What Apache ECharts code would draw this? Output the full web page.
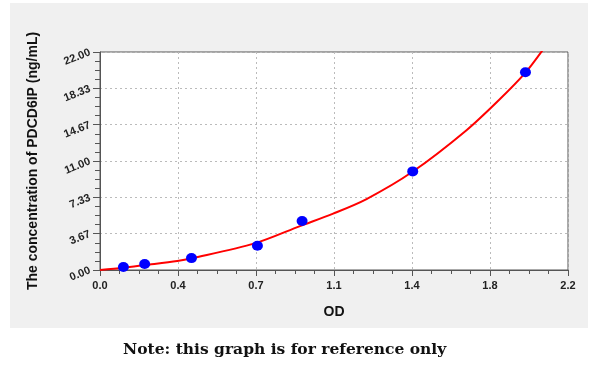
<!DOCTYPE html>
<html>
<head>
<meta charset="utf-8">
<script src="https://cdn.jsdelivr.net/npm/echarts@6/dist/echarts.min.js"></script>
<style>
html,body{margin:0;padding:0;background:#fff;}
#c{width:600px;height:372px;}
</style>
</head>
<body>
<div id="c"></div>
<script>
// Standard points (OD, concentration ng/mL)
const pointOD   = [0.11, 0.21, 0.43, 0.74, 0.95, 1.47, 2.00];
const pointConc = [0.30, 0.60, 1.20, 2.45, 4.95, 9.95, 19.95];
// Fitted curve
const curveOD   = [0.000, 0.109, 0.211, 0.363, 0.431, 0.728, 0.940, 1.096, 1.253, 1.469, 1.723, 1.879, 2.000, 2.080];
const curveConc = [0.00, 0.23, 0.50, 0.91, 1.18, 2.69, 4.43, 5.69, 7.16, 9.91, 14.11, 17.23, 19.92, 22.17];
// Tick labels
const xTickLabels = ['0.0', '0.4', '0.7', '1.1', '1.4', '1.8', '2.2'];
const yTickLabels = ['0.00', '3.67', '7.33', '11.00', '14.67', '18.33', '22.00'];
const xMax = 2.2, yMax = 22;
const xInt = xMax / 6, yInt = yMax / 6;

const chart = echarts.init(document.getElementById('c'), null, {renderer: 'canvas'});
const axisCol = '#555';
const labelStyle = {fontFamily: 'Liberation Sans, Arial', fontWeight: 'bold', fontSize: 11, color: '#222'};

chart.setOption({
  animation: false,
  backgroundColor: '#fff',
  graphic: [
    {type: 'rect', z: -10, shape: {x: 10, y: 3, width: 578, height: 325}, style: {fill: '#f0f0f0'}},
    {type: 'text', z: 10, left: 123, top: 342,
     style: {text: 'Note: this graph is for reference only', font: 'bold 15.5px "DejaVu Serif", serif', fill: '#111'}}
  ],
  grid: {left: 100, top: 52, right: 32, bottom: 102, show: true, backgroundColor: '#fff', borderColor: axisCol, borderWidth: 1},
  xAxis: {
    type: 'value', min: 0, max: xMax, interval: xInt,
    name: 'OD', nameLocation: 'middle', nameGap: 35,
    nameTextStyle: {fontFamily: 'Liberation Sans, Arial', fontWeight: 'bold', fontSize: 14, color: '#111'},
    axisLine: {show: true, onZero: false, lineStyle: {color: axisCol, width: 1}},
    axisTick: {show: true, inside: false, length: 6, lineStyle: {color: axisCol}},
    minorTick: {show: true, splitNumber: 4, length: 4, lineStyle: {color: axisCol}},
    axisLabel: Object.assign({margin: 10, formatter: v => xTickLabels[Math.round(v / xInt)]}, labelStyle),
    splitLine: {show: true, lineStyle: {color: '#bbb', type: [2, 3], width: 1}}
  },
  yAxis: {
    type: 'value', min: 0, max: yMax, interval: yInt,
    name: 'The concentration of PDCD6IP (ng/mL)', nameLocation: 'middle', nameGap: 60,
    nameTextStyle: {fontFamily: 'Liberation Sans, Arial', fontWeight: 'bold', fontSize: 14, color: '#111'},
    axisLine: {show: true, onZero: false, lineStyle: {color: axisCol, width: 1}},
    axisTick: {show: true, inside: false, length: 7, lineStyle: {color: axisCol}},
    minorTick: {show: true, splitNumber: 4, length: 5, lineStyle: {color: axisCol}},
    axisLabel: Object.assign({margin: 10, rotate: 22, formatter: v => yTickLabels[Math.round(v / yInt)]}, labelStyle),
    splitLine: {show: true, lineStyle: {color: '#bbb', type: [2, 3], width: 1}}
  },
  series: [
    {
      type: 'line', smooth: 0.3, showSymbol: false, clip: true,
      data: curveOD.map((x, i) => [x, curveConc[i]]),
      lineStyle: {color: '#ff0000', width: 2}, z: 2
    },
    {
      type: 'scatter', symbol: 'circle', symbolSize: [11, 10],
      data: pointOD.map((x, i) => [x, pointConc[i]]),
      itemStyle: {color: '#0000ff', opacity: 1}, z: 3
    }
  ]
});
</script>
</body>
</html>
